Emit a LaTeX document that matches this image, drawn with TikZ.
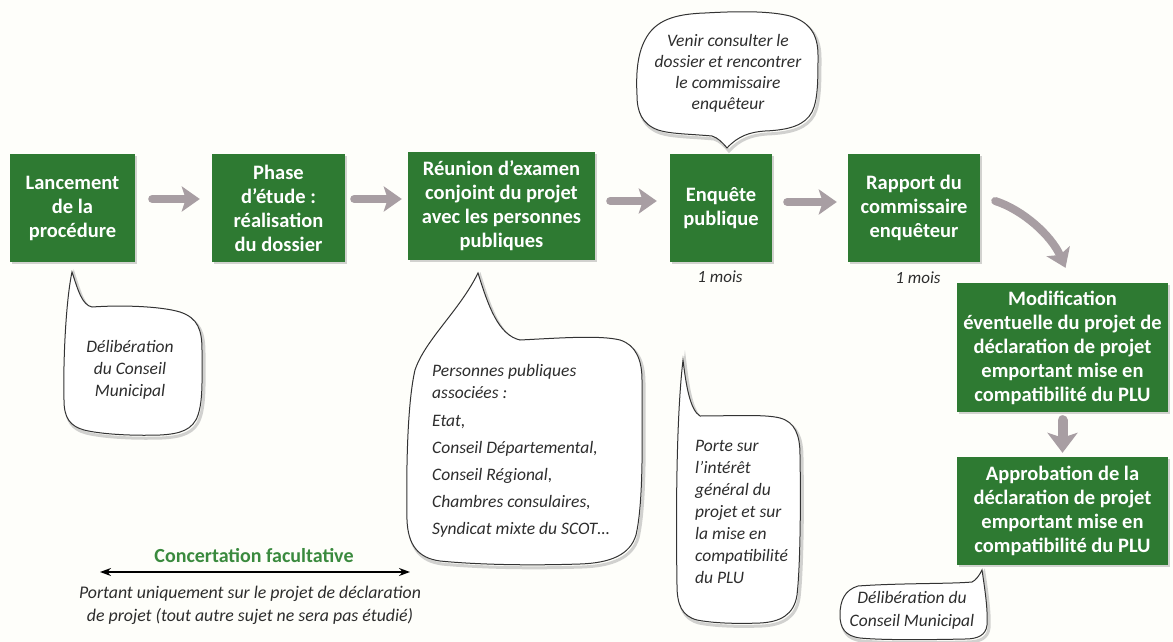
\documentclass[tikz,border=0pt]{standalone}
\usepackage{fontspec}
\setmainfont{Carlito}
\usetikzlibrary{arrows.meta,shadows}
\definecolor{boxgreen}{RGB}{46,122,50}
\definecolor{arrowgray}{RGB}{168,158,163}
\definecolor{txtgray}{RGB}{45,45,45}
\definecolor{bgcream}{RGB}{254,254,250}
\definecolor{labgreen}{RGB}{58,138,62}
\begin{document}
\begin{tikzpicture}[x=1pt,y=-1pt,
  stepbox/.style={fill=boxgreen, text=white, font=\bfseries\fontsize{20.5}{24}\selectfont, align=center, inner sep=0pt,
    drop shadow={shadow xshift=1.5pt,shadow yshift=-1.5pt,opacity=0.35}},
  flow/.style={draw=arrowgray, line width=8pt, line cap=round, -{Stealth[length=18pt,width=25pt,inset=4pt]}},
  bubble/.style={fill=white, draw=black!80, line width=1pt},
  bshadow/.style={draw=black!35, line width=3pt, opacity=0.5},
  note/.style={text=txtgray, font=\itshape\fontsize{17.5}{22}\selectfont, inner sep=0pt},
]
\fill[bgcream] (0,0) rectangle (1173,642);
\useasboundingbox (0,0) rectangle (1173,642);

% ---------- callout shapes ----------
\def\bubA{(72,272) .. controls (78,290) and (82,305) .. (92,307)
  .. controls (120,305) and (160,306) .. (180,312)
  .. controls (198,318) and (202,330) .. (202,350)
  .. controls (202,380) and (203,400) .. (198,415)
  .. controls (193,430) and (180,434) .. (160,435)
  .. controls (130,436) and (100,434) .. (84,430)
  .. controls (70,426) and (64,418) .. (64,400)
  .. controls (63,360) and (66,300) .. (72,272) -- cycle}
\def\bubB{(478,273) .. controls (488,305) and (498,335) .. (520,340)
  .. controls (560,338) and (600,335) .. (620,340)
  .. controls (636,345) and (642,360) .. (642,380)
  .. controls (642,430) and (644,500) .. (636,535)
  .. controls (630,555) and (610,563) .. (580,564)
  .. controls (520,566) and (470,564) .. (440,561)
  .. controls (418,558) and (408,545) .. (407,520)
  .. controls (406,460) and (408,400) .. (415,370)
  .. controls (425,340) and (460,310) .. (478,273) -- cycle}
\def\bubC{(683,360) .. controls (686,385) and (690,410) .. (700,416)
  .. controls (730,416) and (765,414) .. (780,418)
  .. controls (795,422) and (800,435) .. (800,455)
  .. controls (801,510) and (800,570) .. (797,595)
  .. controls (794,615) and (780,622) .. (760,623)
  .. controls (735,624) and (712,623) .. (697,620)
  .. controls (682,616) and (677,605) .. (677,585)
  .. controls (676,520) and (676,420) .. (683,360) -- cycle}
\def\bubD{(727,148) .. controls (722,142) and (718,138) .. (712,136)
  .. controls (690,134) and (670,134) .. (658,130)
  .. controls (642,124) and (637,112) .. (637,95)
  .. controls (636,75) and (637,55) .. (645,40)
  .. controls (655,20) and (675,14) .. (705,13)
  .. controls (740,11) and (770,11) .. (790,16)
  .. controls (810,22) and (818,35) .. (818,55)
  .. controls (818,80) and (818,100) .. (812,112)
  .. controls (805,125) and (790,130) .. (765,131)
  .. controls (750,132) and (738,136) .. (727,148) -- cycle}
\def\bubE{(982,570) .. controls (985,590) and (988,610) .. (987,625)
  .. controls (986,635) and (978,639) .. (965,639)
  .. controls (920,640) and (880,640) .. (860,638)
  .. controls (845,636) and (840,628) .. (840,615)
  .. controls (840,600) and (845,590) .. (858,586)
  .. controls (900,583) and (950,584) .. (972,582)
  .. controls (976,580) and (979,576) .. (982,570) -- cycle}

\foreach \b in {\bubA,\bubB,\bubC,\bubD,\bubE}{
  \draw[bshadow, shift={(2,3)}] \b;
}
\draw[bubble] \bubA;
\draw[bubble] \bubB;
\draw[bubble] \bubC;
\draw[bubble] \bubD;
\draw[bubble] \bubE;

% ---------- green steps ----------
\node[stepbox, minimum width=125pt, minimum height=108pt] (b1) at (72.5,208) {Lancement\\de la\\procédure};
\node[stepbox, minimum width=133pt, minimum height=108pt] (b2) at (278.5,208) {Phase\\d’étude :\\réalisation\\du dossier};
\node[stepbox, minimum width=187pt, minimum height=108pt] (b3) at (501.5,206) {Réunion d’examen\\conjoint du projet\\avec les personnes\\publiques};
\node[stepbox, minimum width=102pt, minimum height=108pt] (b4) at (721,208) {Enquête\\publique};
\node[stepbox, minimum width=132pt, minimum height=108pt] (b5) at (914,208) {Rapport du\\commissaire\\enquêteur};
\node[stepbox, minimum width=211pt, minimum height=129pt] (b6) at (1062.5,347.5) {Modification\\éventuelle du projet de\\déclaration de projet\\emportant mise en\\compatibilité du PLU};
\node[stepbox, minimum width=211pt, minimum height=108pt] (b7) at (1062.5,511) {Approbation de la\\déclaration de projet\\emportant mise en\\compatibilité du PLU};

% ---------- flow arrows ----------
\draw[flow, shorten <=17pt, shorten >=12pt] ([yshift=9pt]b1.east) -- ([yshift=9pt]b2.west);
\draw[flow, shorten <=9pt, shorten >=6pt] ([yshift=9pt]b2.east) -- ([yshift=9pt]b3.west |- b2.east);
\draw[flow, shorten <=15pt, shorten >=13pt] ([yshift=7pt]b4.west -| b3.east) -- ([yshift=7pt]b4.west);
\draw[flow, shorten <=15pt, shorten >=11pt] ([yshift=6pt]b4.east) -- ([yshift=6pt]b5.west);
\draw[flow] ([xshift=15pt,yshift=7pt]b5.east) .. controls +(28,9) and +(-14,-32) .. ([xshift=3pt,yshift=15pt]b6.north);
\draw[flow, line width=10pt, shorten <=8pt, shorten >=4pt, -{Stealth[length=20pt,width=30pt,inset=5pt]}] (b6.south) -- (b7.north);

% ---------- callout texts ----------
\node[note, align=center] (t1) at (130,370) {Délibération\\du Conseil\\Municipal};
\node[note, align=left, anchor=west] (t2) at (432,451) {Personnes publiques\\associées :\\[6pt]Etat,\\[5pt]Conseil Départemental,\\[5pt]Conseil Régional,\\[5pt]Chambres consulaires,\\[5pt]Syndicat mixte du SCOT…};
\node[note, align=left, anchor=west] (t3) at (695,512) {Porte sur\\l’intérêt\\général du\\projet et sur\\la mise en\\compatibilité\\du PLU};
\node[note, align=center, font=\itshape\fontsize{17.5}{21}\selectfont] (t4) at (728,73) {Venir consulter le\\dossier et rencontrer\\le commissaire\\enquêteur};
\node[note, align=center, font=\itshape\fontsize{17.5}{23}\selectfont] (t5) at (912,610) {Délibération du\\Conseil Municipal};

% ---------- durations ----------
\node[note, font=\itshape\fontsize{17}{20}\selectfont] (m1) at (720,277) {1 mois};
\node[note, font=\itshape\fontsize{17}{20}\selectfont] (m2) at (918,278) {1 mois};

% ---------- concertation ----------
\node[text=labgreen, font=\bfseries\fontsize{20}{24}\selectfont, inner sep=0pt] (conc) at (254,556) {Concertation facultative};
\coordinate (cL) at (100,572);
\coordinate (cR) at (410,572);
\draw[line width=1.6pt, {Stealth[length=11pt,width=8pt]}-{Stealth[length=11pt,width=8pt]}] (cL) -- (cR);
\node[note, align=center, font=\itshape\fontsize{17.8}{23}\selectfont] (port) at (250,605) {Portant uniquement sur le projet de déclaration\\de projet (tout autre sujet ne sera pas étudié)};
\end{tikzpicture}
\end{document}
